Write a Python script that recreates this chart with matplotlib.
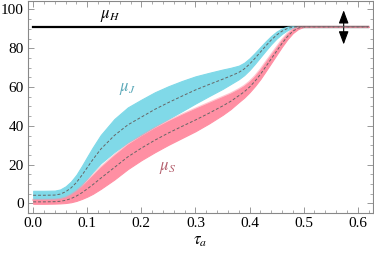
import matplotlib
matplotlib.use("Agg")
from matplotlib import pyplot as plt
from matplotlib.ticker import MultipleLocator

# tau_a grid
tau = [0.0, 0.02, 0.04, 0.05, 0.06, 0.07, 0.08, 0.09, 0.1, 0.11, 0.125, 0.15,
       0.175, 0.2, 0.225, 0.25, 0.275, 0.3, 0.325, 0.35, 0.365, 0.38, 0.39,
       0.4, 0.41, 0.42, 0.43, 0.44, 0.45, 0.46, 0.47, 0.48, 0.49, 0.5, 0.52,
       0.55, 0.6, 0.62]

# mu_J band (median and half width)
mu_j = [4.2, 4.2, 4.3, 4.8, 6.0, 8.0, 10.8, 14.5, 18.5, 22.5, 28.0, 35.0,
        40.5, 44.5, 48.5, 52.0, 55.3, 58.5, 61.3, 64.0, 65.7, 67.5, 69.3,
        71.8, 74.8, 78.0, 81.2, 84.2, 86.8, 88.8, 90.2, 90.9, 91.0, 91.0, 91.0,
        91.0, 91.0, 91.0]
mu_j_err = [2.3, 2.3, 2.3, 2.4, 2.8, 3.3, 4.0, 4.8, 5.6, 6.3, 7.3, 8.5,
            9.0, 9.0, 8.8, 8.4, 7.8, 7.0, 6.0, 5.0, 4.2, 3.5, 3.2,
            3.0, 2.8, 2.6, 2.4, 2.1, 1.8, 1.4, 0.9, 0.4, 0.0, 0.0, 0.0,
            0.0, 0.0, 0.0]

# mu_S band
mu_s = [0.8, 0.8, 0.9, 1.1, 1.6, 2.5, 3.8, 5.5, 7.5, 9.6, 13.0, 18.5,
        24.0, 28.5, 32.6, 36.3, 39.7, 43.0, 46.5, 50.2, 52.6, 55.5, 57.5,
        60.0, 63.0, 66.5, 70.5, 74.5, 78.5, 82.5, 86.0, 88.8, 90.4, 91.0, 91.0,
        91.0, 91.0, 91.0]
mu_s_err = [1.0, 1.0, 1.0, 1.1, 1.4, 1.9, 2.5, 3.2, 4.0, 4.7, 5.5, 6.2,
            6.3, 6.2, 6.2, 6.1, 6.0, 5.8, 5.3, 4.6, 4.0, 3.3, 3.0,
            2.7, 2.5, 2.4, 2.3, 2.1, 1.9, 1.7, 1.4, 1.0, 0.5, 0.0, 0.0,
            0.0, 0.0, 0.0]

mu_h = 91.0

plt.rcParams['mathtext.fontset'] = 'stix'
plt.rcParams['font.family'] = 'Liberation Serif'

fig = plt.figure(figsize=(3.74, 2.54), dpi=100)
ax = fig.add_axes([0.075, 0.161, 0.922, 0.837])

cyan = '#80d9e8'
pink = '#ff8fa3'

ax.axhline(mu_h, xmin=0.014, xmax=0.985, color='black', lw=1.6, zorder=1)

j_lo = [m - e for m, e in zip(mu_j, mu_j_err)]
j_hi = [m + e for m, e in zip(mu_j, mu_j_err)]
s_lo = [m - e for m, e in zip(mu_s, mu_s_err)]
s_hi = [m + e for m, e in zip(mu_s, mu_s_err)]

ax.fill_between(tau, j_lo, j_hi, color=cyan, lw=0.8, zorder=2)
ax.fill_between(tau, s_lo, s_hi, color=pink, lw=0.8, zorder=3)
# thin pink edge, half transparent, gives the mauve tint over the black line
ax.plot(tau, s_hi, color=pink, lw=1.6, alpha=0.5, zorder=3)
ax.plot(tau, mu_j, color='#666666', lw=0.7, ls=(0, (3, 2)), zorder=4)
ax.plot(tau, mu_s, color='#666666', lw=0.7, ls=(0, (3, 2)), zorder=4)

ax.annotate('', xy=(0.574, 80.5), xytext=(0.574, 101),
            arrowprops=dict(arrowstyle='<|-|>,head_length=0.8,head_width=0.3',
                            color='black', lw=0.8, mutation_scale=10))

ax.text(0.143, 96.5, r'$\mu_H$', fontsize=12, ha='center', va='center')
ax.text(0.174, 59, r'$\mu_J$', fontsize=12, ha='center', va='center', color='#5aa8b8')
ax.text(0.248, 18, r'$\mu_S$', fontsize=12, ha='center', va='center', color='#b4606e')

ax.set_xlim(-0.0095, 0.628)
ax.set_ylim(-5, 104.6)
ax.xaxis.set_major_locator(MultipleLocator(0.1))
ax.xaxis.set_minor_locator(MultipleLocator(0.02))
ax.yaxis.set_major_locator(MultipleLocator(20))
ax.yaxis.set_minor_locator(MultipleLocator(5))
ax.xaxis.set_major_formatter(plt.FuncFormatter(lambda v, p: '%.1f' % v))
ax.tick_params(which='both', direction='in', top=True, right=True,
               color='#888888', labelsize=11, pad=3)
ax.tick_params(which='major', length=4, width=0.6)
ax.tick_params(which='minor', length=2, width=0.5)
for s in ax.spines.values():
    s.set_color('#888888')
    s.set_linewidth(0.8)

ax.set_xlabel(r'$\tau_a$', fontsize=12, labelpad=2)

fig.savefig('out.png', dpi=100)
